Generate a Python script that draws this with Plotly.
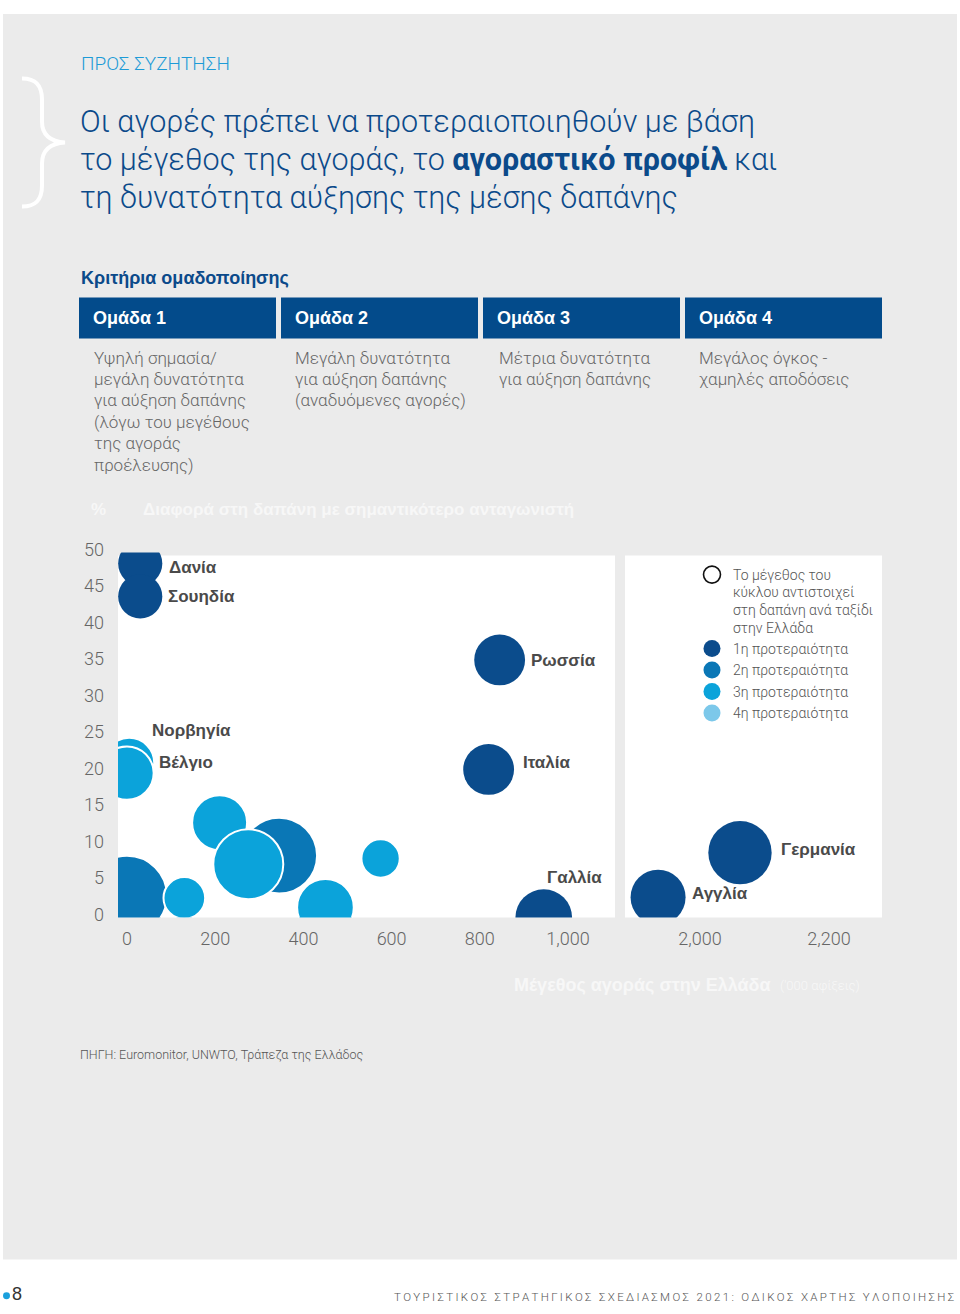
import plotly.graph_objects as go

W, H = 960, 1314

# ---------------- data ----------------
markets = ["Δανία", "Σουηδία", "Νορβηγία", "Βέλγιο", "", "", "", "", "", "", "",
           "Ρωσσία", "Ιταλία", "Γαλλία", "Αγγλία", "Γερμανία"]
market_size = [30, 30, 5, 0, 0, 130, 210, 345, 275, 450, 575,
               845, 820, 945, 1935, 2062]          # '000 arrivals in Greece
spend_gap = [48.5, 44, 21.2, 19.8, 3.0, 2.7, 13, 8.5, 7.3, 1.4, 8.1,
             35.3, 20.3, 0.0, 2.8, 8.9]            # % gap vs main competitor
spend_per_trip = [530, 530, 600, 640, 960, 500, 660, 910, 840, 680, 460,
                  610, 610, 680, 660, 760]         # bubble size
priority = [1, 1, 3, 3, 2, 3, 3, 2, 3, 3, 3, 1, 1, 1, 1, 1]

y_ticks = [0, 5, 10, 15, 20, 25, 30, 35, 40, 45, 50]
x_ticks_left = [0, 200, 400, 600, 800, 1000]
x_ticks_right = [2000, 2200]

groups = ["Ομάδα 1", "Ομάδα 2", "Ομάδα 3", "Ομάδα 4"]
group_text = [
    ["Υψηλή σημασία/", "μεγάλη δυνατότητα", "για αύξηση δαπάνης",
     "(λόγω του μεγέθους", "της αγοράς", "προέλευσης)"],
    ["Μεγάλη δυνατότητα", "για αύξηση δαπάνης", "(αναδυόμενες αγορές)"],
    ["Μέτρια δυνατότητα", "για αύξηση δαπάνης"],
    ["Μεγάλος όγκος -", "χαμηλές αποδόσεις"],
]
legend_size_lines = ["Το μέγεθος του", "κύκλου αντιστοιχεί",
                     "στη δαπάνη ανά ταξίδι", "στην Ελλάδα"]
legend_priorities = ["1η προτεραιότητα", "2η προτεραιότητα",
                     "3η προτεραιότητα", "4η προτεραιότητα"]

# ---------------- style ----------------
NAVY = "#0b4a8a"
PRIO_COL = {1: "#0b4c8c", 2: "#0a77b6", 3: "#0ba3da", 4: "#7cc8ea"}
GRAY_BG = "#ebebeb"
TXT_GRAY = "#666666"
LABEL_GRAY = "#4a4a4a"
LIGHT = dict(family="Roboto, Liberation Sans, sans-serif", weight=300)
BOLD = dict(family="Liberation Sans, Arial, sans-serif", weight=700)

# small vertical calibration of the page photograph
V_OFF, V_SCALE = 13.4, 0.984


def X(px):
    return px / W


def Y(py, lo=0.0, hi=H):
    d = (py - V_OFF) / V_SCALE
    d = min(max(d, lo), hi)
    return 1 - d / H


# axis geometry (pixels)
LX0, LX1 = 118, 615
RX0, RX1 = 625, 882
PY0, PY1 = 552, 917
x_left_range = [(LX0 - 127) / 0.441, (LX1 - 127) / 0.441]
x_right_range = [2000 - (700 - RX0) / 0.645, 2000 + (RX1 - 700) / 0.645]

fig = go.Figure()

for i in range(len(markets)):
    right = market_size[i] > 1500
    p = priority[i]
    lw = 0 if p == 1 else 2
    fig.add_trace(go.Scatter(
        x=[market_size[i]], y=[spend_gap[i]],
        xaxis="x2" if right else "x", yaxis="y",
        mode="markers",
        marker=dict(size=[spend_per_trip[i]], sizemode="diameter", sizeref=12,
                    color=PRIO_COL[p], opacity=1,
                    line=dict(color="white", width=lw)),
        name=markets[i] or "market", showlegend=False, hoverinfo="skip",
        cliponaxis=True,
    ))

label_offsets = {
    "Δανία": (27, -4), "Σουηδία": (26, 0), "Νορβηγία": (21, 32),
    "Βέλγιο": (30, 11), "Ρωσσία": (29, -1), "Ιταλία": (32, 7),
    "Γαλλία": (1, 40), "Αγγλία": (32, 4), "Γερμανία": (39, 3),
}

annotations = []
for i, m in enumerate(markets):
    if not m:
        continue
    dx, dy = label_offsets[m]
    right = market_size[i] > 1500
    annotations.append(dict(
        x=market_size[i], y=spend_gap[i], xref="x2" if right else "x", yref="y",
        text=m, showarrow=False, xanchor="left", yanchor="middle",
        xshift=dx, yshift=dy,
        font=dict(size=17, color=LABEL_GRAY, **BOLD)))

shapes = []
# page background
shapes.append(dict(type="rect", xref="paper", yref="paper", x0=X(3), x1=X(957),
                   y0=Y(1259), y1=Y(3), fillcolor=GRAY_BG, line_width=0, layer="below"))
# white panels
for xr in ["x", "x2"]:
    shapes.append(dict(type="rect", xref=f"{xr} domain", yref="paper",
                       x0=0, x1=1, y0=Y(PY1), y1=Y(555),
                       fillcolor="white", line_width=0, layer="below"))


# decorative brace
def P(x, y):
    return f"{X(x):.5f},{Y(y):.5f}"


brace = (f"M{P(22, 78)} C{P(36, 78)} {P(42, 85)} {P(42, 99)} L{P(42, 121)} "
         f"C{P(42, 134)} {P(50, 141)} {P(65, 142)} C{P(50, 143)} {P(42, 150)} {P(42, 163)} "
         f"L{P(42, 185)} C{P(42, 199)} {P(36, 206)} {P(22, 206)}")
shapes.append(dict(type="path", xref="paper", yref="paper", path=brace,
                   line=dict(color="white", width=4)))

annotations.append(dict(x=X(79), y=Y(63), xref="paper", yref="paper",
                        text="ΠΡΟΣ ΣΥΖΗΤΗΣΗ", showarrow=False, xanchor="left",
                        yanchor="middle", font=dict(size=19, color="#1d9bd7", **LIGHT)))
title_lines = ["Οι αγορές πρέπει να προτεραιοποιηθούν με βάση",
               "το μέγεθος της αγοράς, το <b>αγοραστικό προφίλ</b> και",
               "τη δυνατότητα αύξησης της μέσης δαπάνης"]
for k, t in enumerate(title_lines):
    annotations.append(dict(x=X(78), y=Y(121 + 38 * k), xref="paper", yref="paper",
                            text=t, showarrow=False, xanchor="left", yanchor="middle",
                            font=dict(size=30.5, color=NAVY, **LIGHT)))

annotations.append(dict(x=X(79), y=Y(277), xref="paper", yref="paper",
                        text="Κριτήρια ομαδοποίησης", showarrow=False, xanchor="left",
                        yanchor="middle", font=dict(size=18, color=NAVY, **BOLD)))

box_x = [79, 281, 483, 685]
desc_x = [92, 293, 497, 697]
for k, g in enumerate(groups):
    shapes.append(dict(type="rect", xref="paper", yref="paper",
                       x0=X(box_x[k]), x1=X(box_x[k] + 197), y0=Y(338), y1=Y(297),
                       fillcolor="#034b8b", line_width=0))
    annotations.append(dict(x=X(box_x[k] + 12), y=Y(317), xref="paper", yref="paper",
                            text=g, showarrow=False, xanchor="left", yanchor="middle",
                            font=dict(size=18, color="white", **BOLD)))
    for j, line in enumerate(group_text[k]):
        annotations.append(dict(x=X(desc_x[k]), y=Y(357 + 21.4 * j), xref="paper",
                                yref="paper", text=line, showarrow=False,
                                xanchor="left", yanchor="middle",
                                font=dict(size=17, color=TXT_GRAY, **LIGHT)))

# axis titles (faint white)
annotations.append(dict(x=X(89), y=Y(509), xref="paper", yref="paper", text="%",
                        showarrow=False, xanchor="left", yanchor="middle",
                        font=dict(size=17, color="#f7f7f7", **BOLD)))
annotations.append(dict(x=X(141), y=Y(509), xref="paper", yref="paper",
                        text="Διαφορά στη δαπάνη με σημαντικότερο ανταγωνιστή",
                        showarrow=False, xanchor="left", yanchor="middle",
                        font=dict(size=17, color="#f7f7f7", **BOLD)))
annotations.append(dict(x=X(512), y=Y(984), xref="paper", yref="paper",
                        text="Μέγεθος αγοράς στην Ελλάδα", showarrow=False,
                        xanchor="left", yanchor="middle",
                        font=dict(size=18, color="#f7f7f7", **BOLD)))
annotations.append(dict(x=X(778), y=Y(985), xref="paper", yref="paper",
                        text="('000 αφίξεις)", showarrow=False,
                        xanchor="left", yanchor="middle",
                        font=dict(size=13, color="#f7f7f7", **LIGHT)))

# legend (drawn)
shapes.append(dict(type="circle", xref="paper", yref="paper",
                   x0=X(712 - 8.5), x1=X(712 + 8.5), y0=Y(574 + 8.5), y1=Y(574 - 8.5),
                   fillcolor="white", line=dict(color="#111111", width=1.6)))
for j, t in enumerate(legend_size_lines):
    annotations.append(dict(x=X(731), y=Y(574 + 17.7 * j), xref="paper", yref="paper",
                            text=t, showarrow=False, xanchor="left", yanchor="middle",
                            font=dict(size=14, color="#555555", **LIGHT)))
for j, t in enumerate(legend_priorities):
    cy = 648 + 21.5 * j
    shapes.append(dict(type="circle", xref="paper", yref="paper",
                       x0=X(712 - 8.5), x1=X(712 + 8.5), y0=Y(cy + 8.5), y1=Y(cy - 8.5),
                       fillcolor=PRIO_COL[j + 1], line_width=0))
    annotations.append(dict(x=X(731), y=Y(cy), xref="paper", yref="paper",
                            text=t, showarrow=False, xanchor="left", yanchor="middle",
                            font=dict(size=14, color="#555555", **LIGHT)))

# source & footer (kept fully inside the page)
annotations.append(dict(x=X(78), y=Y(1054), xref="paper", yref="paper",
                        text="ΠΗΓΗ: Euromonitor, UNWTO, Τράπεζα της Ελλάδος",
                        showarrow=False, xanchor="left", yanchor="middle",
                        font=dict(size=12.5, color="#555555", **LIGHT)))
shapes.append(dict(type="circle", xref="paper", yref="paper",
                   x0=X(3), x1=X(10), y0=Y(1308.5, hi=1306), y1=Y(1301.5, hi=1299),
                   fillcolor="#1aa0dc", line_width=0))
annotations.append(dict(x=X(10), y=Y(1305, hi=1301), xref="paper", yref="paper",
                        text="8", showarrow=False, xanchor="left", yanchor="middle",
                        font=dict(size=18, color="#333333",
                                  family="Liberation Sans Narrow, Liberation Sans, sans-serif")))
footer = "ΤΟΥΡΙΣΤΙΚΟΣ ΣΤΡΑΤΗΓΙΚΟΣ ΣΧΕΔΙΑΣΜΟΣ 2021: ΟΔΙΚΟΣ ΧΑΡΤΗΣ ΥΛΟΠΟΙΗΣΗΣ"
footer_spaced = "\u2009".join(footer)
annotations.append(dict(x=X(957), y=Y(1305, hi=1304), xref="paper", yref="paper",
                        text=footer_spaced, showarrow=False, xanchor="right",
                        yanchor="middle",
                        font=dict(size=11.5, color="#555555", **LIGHT)))

tickfont = dict(size=18, color=TXT_GRAY, **LIGHT)
fig.update_layout(
    width=W, height=H, margin=dict(l=0, r=0, t=0, b=0),
    paper_bgcolor="white", plot_bgcolor="rgba(0,0,0,0)",
    showlegend=False,
    xaxis=dict(domain=[X(LX0), X(LX1)], range=x_left_range, anchor="y",
               tickvals=x_ticks_left, ticktext=[f"{v:,}" for v in x_ticks_left],
               showgrid=False, zeroline=False, showline=False, ticks="",
               tickfont=tickfont, ticklabelstandoff=8),
    xaxis2=dict(domain=[X(RX0), X(RX1)], range=x_right_range, anchor="y",
                tickvals=x_ticks_right, ticktext=[f"{v:,}" for v in x_ticks_right],
                showgrid=False, zeroline=False, showline=False, ticks="",
                tickfont=tickfont, ticklabelstandoff=8),
    yaxis=dict(domain=[Y(PY1), Y(PY0)], range=[0, 50], anchor="x",
               tickvals=y_ticks, showgrid=False, zeroline=False, showline=False,
               ticks="", tickfont=tickfont, ticklabelshift=-3, ticklabelstandoff=13),
    shapes=shapes, annotations=annotations,
)

fig.write_html(
    "out.html",
    config={"displayModeBar": False},
    post_script=(
        "var gd=document.getElementById('{plot_id}');"
        "document.documentElement.style.cssText='margin:0;padding:0;overflow:hidden;"
        "width:960px;height:1314px;';"
        "document.body.style.cssText='margin:0;padding:0;overflow:hidden;"
        "width:960px;height:1314px;position:relative;';"
        "gd.style.position='absolute';gd.style.top='0px';gd.style.left='0px';"
    ),
)
